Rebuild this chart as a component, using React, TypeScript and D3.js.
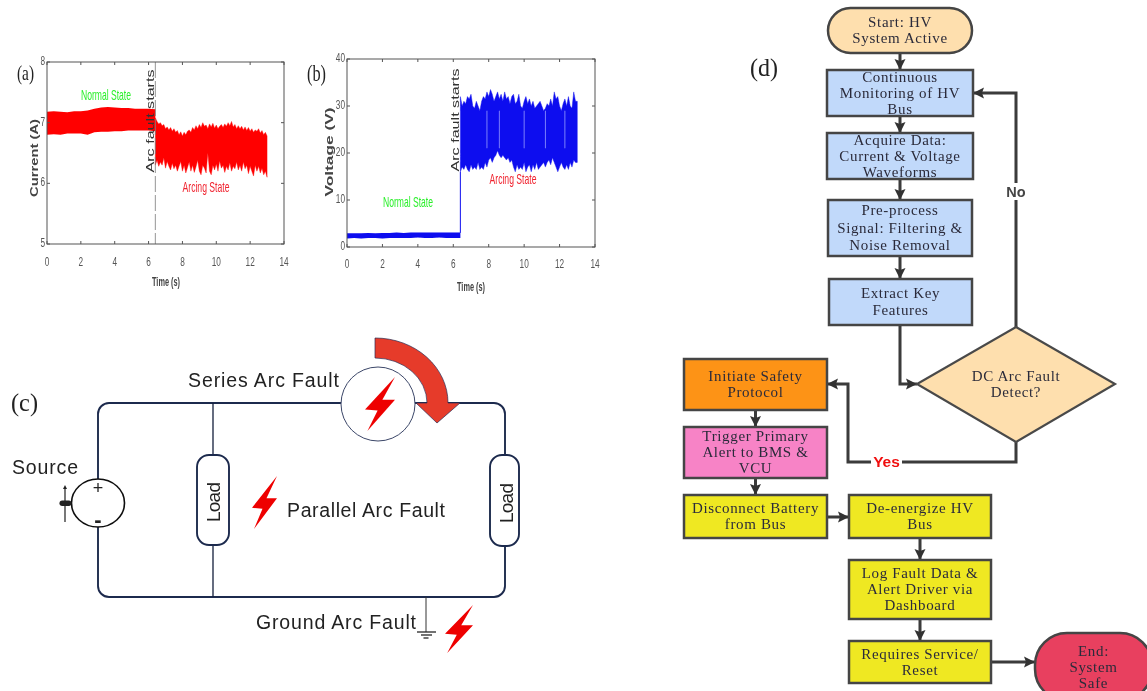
import React from 'react';
import * as d3 from 'd3';

// ---- signal envelopes (a) and (b)
const xTickValues = [0, 2, 4, 6, 8, 10, 12, 14];
const currentTicks = [5, 6, 7, 8];
const voltageTicks = [0, 10, 20, 30, 40];
const faultTime = 6.4;

const normalTimes = [0, 0.4, 0.8, 1.2, 1.6, 2, 2.4, 2.8, 3.2, 3.6, 4, 4.4, 4.8, 5.2, 5.6, 6, 6.4];
const arcTimes = d3.range(0, 67).map(i => 6.4 + i * 0.1);

const currentNormalHigh = [7.18, 7.19, 7.18, 7.17, 7.19, 7.19, 7.2, 7.23, 7.25, 7.26, 7.25, 7.24, 7.24, 7.23, 7.23, 7.23, 7.22];
const currentNormalLow = [6.8, 6.81, 6.8, 6.82, 6.82, 6.82, 6.8, 6.84, 6.85, 6.85, 6.86, 6.86, 6.87, 6.87, 6.87, 6.87, 6.86];
const currentArcHigh = [
    7.08, 7.02, 6.98, 7.0, 6.95, 6.97, 6.9, 6.93, 6.88, 6.92,
    6.86, 6.9, 6.84, 6.87, 6.8, 6.85, 6.78, 6.84, 6.8, 6.86,
    6.88, 6.84, 6.92, 6.88, 6.95, 6.9, 6.97, 6.92, 7.0, 6.94,
    6.96, 6.9, 6.98, 6.93, 6.99, 6.91, 6.96, 6.9, 6.94, 6.97,
    6.92, 6.98, 6.94, 7.0, 6.95, 7.02, 6.93, 6.97, 6.9, 6.95,
    6.9, 6.94, 6.88, 6.93, 6.87, 6.92, 6.86, 6.9, 6.84, 6.88,
    6.86, 6.9, 6.83, 6.87, 6.8, 6.84, 6.78,
];
const currentArcLow = [
    6.3, 6.38, 6.28, 6.35, 6.3, 6.42, 6.25, 6.36, 6.28, 6.22,
    6.33, 6.24, 6.3, 6.2, 6.28, 6.36, 6.2, 6.3, 6.17, 6.26,
    6.35, 6.2, 6.3, 6.18, 6.27, 6.38, 6.2, 6.14, 6.3, 6.25,
    6.17, 6.5, 6.2, 6.14, 6.3, 6.22, 6.32, 6.2, 6.37, 6.25,
    6.3, 6.18, 6.28, 6.22, 6.34, 6.2, 6.28, 6.24, 6.35, 6.22,
    6.3, 6.2, 6.35, 6.24, 6.3, 6.16, 6.28, 6.2, 6.12, 6.3,
    6.2, 6.28, 6.17, 6.25, 6.14, 6.2, 6.1,
];

const voltageNormalHigh = [2.9, 2.9, 2.9, 3.0, 2.9, 3.0, 3.0, 3.1, 3.0, 3.1, 3.1, 3.1, 3.1, 3.1, 3.1, 3.1, 3.1];
const voltageNormalLow = [1.8, 1.9, 1.8, 1.9, 1.9, 1.8, 1.9, 1.9, 1.9, 1.9, 2.0, 1.9, 1.9, 2.0, 1.9, 1.9, 1.9];
const voltageArcHigh = [
    32, 30, 31, 30.5, 32, 31.5, 32.5, 30, 29.5, 31,
    30, 29, 31, 32, 31.5, 33, 32, 33.5, 32.5, 31,
    32, 33, 31.5, 32.5, 31, 33, 31.5, 32, 30.5, 32,
    32.5, 30.5, 31, 32.5, 30, 29.5, 31, 32, 30.5, 31.5,
    30, 31, 29.5, 30, 30.5, 31, 30, 29, 29.5, 30.5,
    30, 31.5, 30, 33, 31.5, 32, 30, 29, 30.5, 31.5,
    30, 32, 30, 29.5, 33, 31, 31,
];
const voltageArcLow = [
    16, 17, 16.5, 17.5, 16.5, 16, 17.5, 16.5, 17, 16.5,
    18, 16.5, 17, 16.5, 18, 17, 18.5, 19, 18, 19,
    19.5, 20.5, 19.5, 19, 19.5, 19, 18.5, 19, 18, 18.5,
    17, 16, 17.5, 16.5, 17, 16.5, 18, 16, 17, 17.5,
    16, 17.5, 16.5, 18, 16.5, 17, 17.5, 18, 17, 18,
    18.5, 17.5, 19, 18, 17, 16, 17, 18, 17, 16.5,
    17.5, 16.5, 18, 17, 18.5, 18, 18,
];
const voltageDropouts = [7.9, 8.6, 10, 11.2, 12.3];

// ---- flowchart wording
const flowLabels = {
    start: ['Start: HV', 'System Active'],
    monitor: ['Continuous', 'Monitoring of HV', 'Bus'],
    acquire: ['Acquire Data:', 'Current & Voltage', 'Waveforms'],
    filter: ['Pre-process', 'Signal: Filtering &', 'Noise Removal'],
    extract: ['Extract Key', 'Features'],
    detect: ['DC Arc Fault', 'Detect?'],
    safety: ['Initiate Safety', 'Protocol'],
    alert: ['Trigger Primary', 'Alert to BMS &', 'VCU'],
    disconnect: ['Disconnect Battery', 'from Bus'],
    deenergize: ['De-energize HV', 'Bus'],
    log: ['Log Fault Data &', 'Alert Driver via', 'Dashboard'],
    service: ['Requires Service/', 'Reset'],
    end: ['End:', 'System', 'Safe'],
};

// layout: [x0, y0, x1, y1, fill, corner radius, line height]
const BLUE = '#c1d9fa', CREAM = '#fedfae', YELLOW = '#efe824';
const flowBoxes: Record<string, any[]> = {
    start: [828, 8, 972, 53, CREAM, 22.5, 16],
    monitor: [827, 70, 973, 116, BLUE, 0, 16],
    acquire: [827, 133, 973, 179, BLUE, 0, 16],
    filter: [828, 200, 972, 256, BLUE, 0, 17.5],
    extract: [829, 279, 972, 325, BLUE, 0, 17],
    safety: [684, 359, 827, 410, '#fd9317', 0, 16],
    alert: [684, 427, 827, 478, '#f783c6', 0, 16],
    disconnect: [684, 495, 827, 538, YELLOW, 0, 16],
    deenergize: [849, 495, 991, 538, YELLOW, 0, 16],
    log: [849, 560, 991, 619, YELLOW, 0, 16],
    service: [849, 641, 991, 683, YELLOW, 0, 16],
    end: [1035, 633, 1152, 701, '#e8405f', 32, 16],
};
const flowLinks = [
    [[900, 53], [900, 70]],
    [[900, 116], [900, 133]],
    [[900, 179], [900, 200]],
    [[900, 256], [900, 279]],
    [[900, 325], [900, 384], [917, 384]],
    [[1016, 327], [1016, 93], [973, 93]],
    [[1016, 442], [1016, 462], [848, 462], [848, 384], [827, 384]],
    [[755.5, 410], [755.5, 427]],
    [[755.5, 478], [755.5, 495]],
    [[827, 517], [849, 517]],
    [[920, 538], [920, 560]],
    [[920, 619], [920, 641]],
    [[991, 662], [1035, 662]],
];

const SANS = '"Liberation Sans", Arial, sans-serif';
const SERIF = '"Liberation Serif", "Times New Roman", serif';
const WIRE = '#1d2a4d';
const boltShape: [number, number][] = [[1, 0], [0, 0.6], [0.42, 0.62], [0.08, 1], [1, 0.42], [0.58, 0.42]];
const linePath = d3.line();

const Bolt = ({ x, y, w, h }: any) => {
    const sx = d3.scaleLinear().domain([0, 1]).range([x, x + w]);
    const sy = d3.scaleLinear().domain([0, 1]).range([y, y + h]);
    return <path d={linePath(boltShape.map(p => [sx(p[0]), sy(p[1])] as [number, number])) + 'Z'} fill="#ee0606" />;
};

const Panel = ({ box, yDomain, yTicks, yLabel, color, normal, arc, labels, dashed, dropouts, step }: any) => {
    const x = d3.scaleLinear().domain([0, 14]).range([box.l, box.r]);
    const y = d3.scaleLinear().domain(yDomain).range([box.b, box.t]);
    const band = (ts: number[], hi: number[], lo: number[]) =>
        d3.area<number>().x(t => x(t)).y0((_, i) => y(lo[i])).y1((_, i) => y(hi[i]))(ts) as string;
    return (
        <g fontFamily={SANS}>
            <path d={band(normalTimes, normal[0], normal[1])} fill={color} />
            <path d={band(arcTimes, arc[0], arc[1])} fill={color} stroke={color} strokeWidth={0.4} />
            {(dropouts || []).map((t: number) => (
                <line key={t} x1={x(t)} x2={x(t)} y1={y(29)} y2={y(21)} stroke="#9aa0ff" strokeWidth={0.8} />
            ))}
            {step && <line x1={x(faultTime)} x2={x(faultTime)} y1={y(step[0])} y2={y(step[1])} stroke={color} strokeWidth={1} />}
            {dashed && <line x1={x(faultTime)} x2={x(faultTime)} y1={box.t} y2={box.b} stroke="#777" strokeWidth={0.8} strokeDasharray="16 3" />}
            <rect x={box.l} y={box.t} width={box.r - box.l} height={box.b - box.t} fill="none" stroke="#555" strokeWidth={1} />
            {xTickValues.map(d => (
                <g key={d}>
                    <line x1={x(d)} x2={x(d)} y1={box.b} y2={box.b - 3} stroke="#555" />
                    <line x1={x(d)} x2={x(d)} y1={box.t} y2={box.t + 3} stroke="#555" />
                    <text x={x(d)} y={box.b + box.xOff} textAnchor="middle" fontSize={12} fill="#555" textLength={String(d).length * 4.6} lengthAdjust="spacingAndGlyphs">{d}</text>
                </g>
            ))}
            {yTicks.map((d: number) => (
                <g key={d}>
                    <line x1={box.l} x2={box.l + 3} y1={y(d)} y2={y(d)} stroke="#555" />
                    <line x1={box.r} x2={box.r - 3} y1={y(d)} y2={y(d)} stroke="#555" />
                    <text x={box.l - 2} y={y(d) + box.yOff} textAnchor="end" fontSize={12} fill="#555" textLength={String(d).length * 4.6} lengthAdjust="spacingAndGlyphs">{d}</text>
                </g>
            ))}
            <text x={box.timeX} y={box.timeY} textAnchor="middle" fontSize={13} fontWeight="bold" fill="#444" textLength={28} lengthAdjust="spacingAndGlyphs">Time (s)</text>
            <text transform={`translate(${box.yLabelX},${box.yLabelY}) rotate(-90)`} textAnchor="middle" fontSize={10} fontWeight="bold" fill="#444" textLength={box.yLabelLen} lengthAdjust="spacingAndGlyphs">{yLabel}</text>
            <text transform={`translate(${box.faultX},${box.faultY}) rotate(-90)`} textAnchor="middle" fontSize={10} fill="#333" textLength={103} lengthAdjust="spacingAndGlyphs">Arc fault starts</text>
            <text x={labels.normal[0]} y={labels.normal[1]} textAnchor="middle" fontSize={15} fill="#2bef2b" textLength={50} lengthAdjust="spacingAndGlyphs">Normal State</text>
            <text x={labels.arcing[0]} y={labels.arcing[1]} textAnchor="middle" fontSize={15} fill="#f0232f" textLength={47} lengthAdjust="spacingAndGlyphs">Arcing State</text>
        </g>
    );
};

const Circuit = () => (
    <g fontFamily={SANS}>
        <rect x={98} y={403} width={407} height={194} rx={11} fill="none" stroke={WIRE} strokeWidth={1.9} />
        <line x1={213} x2={213} y1={403} y2={597} stroke="#16203a" strokeWidth={1.3} />
        <line x1={426} x2={426} y1={597} y2={632} stroke="#333" strokeWidth={1} />
        <line x1={417} x2={436} y1={632} y2={632} stroke="#222" strokeWidth={1.3} />
        <line x1={421} x2={432} y1={635} y2={635} stroke="#222" strokeWidth={1.3} />
        <line x1={423.5} x2={428.5} y1={638} y2={638} stroke="#222" strokeWidth={1.3} />
        <circle cx={378} cy={404} r={37} fill="#fff" stroke="#3b4668" strokeWidth={1} />
        <path d="M375,338 A73,65 0 0 1 448,403 L460,403 L437,423 L416,403 L427,403 A52,45 0 0 0 375,358 Z" fill="#e63a2b" stroke="#2a2f55" strokeWidth={0.7} />
        <Bolt x={365} y={377} w={30} h={54} />
        <Bolt x={252} y={476} w={25} h={53} />
        <Bolt x={445} y={605} w={28} h={48} />
        <rect x={197} y={455} width={32} height={90} rx={12} fill="#fff" stroke={WIRE} strokeWidth={1.9} />
        <rect x={490} y={455} width={29} height={91} rx={12} fill="#fff" stroke={WIRE} strokeWidth={1.9} />
        <text transform="translate(220,502) rotate(-90)" textAnchor="middle" fontSize={19} fill="#222" textLength={40}>Load</text>
        <text transform="translate(513,503) rotate(-90)" textAnchor="middle" fontSize={19} fill="#222" textLength={40}>Load</text>
        <ellipse cx={98} cy={503} rx={26.5} ry={24} fill="#fff" stroke="#111" strokeWidth={1.6} />
        <text x={98} y={494} textAnchor="middle" fontSize={18} fill="#222">+</text>
        <text x={98} y={527} textAnchor="middle" fontSize={22} fontWeight="bold" fill="#222">-</text>
        <line x1={65} x2={65} y1={487} y2={522} stroke="#222" strokeWidth={1.2} />
        <path d="M63,489 L65,485 L67,489 Z" fill="#222" />
        <rect x={59.5} y={500.5} width={12} height={5.5} rx={2.7} fill="#222" />
        <text x={12} y={474} fontSize={19.5} fill="#222" textLength={66}>Source</text>
        <text x={188} y={387} fontSize={19.5} fill="#222" textLength={151}>Series Arc Fault</text>
        <text x={287} y={517} fontSize={19.5} fill="#222" textLength={158}>Parallel Arc Fault</text>
        <text x={256} y={629} fontSize={19.5} fill="#222" textLength={160}>Ground Arc Fault</text>
    </g>
);

const NodeText = ({ lines, cx, cy, lh }: any) => (
    <text fontFamily={SERIF} fontSize={15} letterSpacing={0.65} fill="#2b2b3a" textAnchor="middle">
        {lines.map((s: string, i: number) => (
            <tspan key={s} x={cx} y={cy + (i - (lines.length - 1) / 2) * lh + 4.5}>{s}</tspan>
        ))}
    </text>
);

const Flowchart = () => (
    <g>
        <defs>
            <marker id="head" markerUnits="userSpaceOnUse" markerWidth={12} markerHeight={12} refX={11} refY={6} orient="auto">
                <path d="M0,0.5 L11,6 L0,11.5 L2,6 Z" fill="#333" />
            </marker>
        </defs>
        {flowLinks.map((pts, i) => (
            <path key={i} d={linePath(pts as [number, number][]) as string} fill="none" stroke="#3a3a3a" strokeWidth={3} markerEnd="url(#head)" />
        ))}
        <path d={linePath([[1016, 327], [1115, 384], [1016, 442], [917, 384]]) + 'Z'} fill={CREAM} stroke="#4a4a4a" strokeWidth={2.2} />
        <NodeText lines={flowLabels.detect} cx={1016} cy={384} lh={16} />
        {Object.keys(flowBoxes).map(k => {
            const [x0, y0, x1, y1, fill, rx, lh] = flowBoxes[k];
            return (
                <g key={k}>
                    <rect x={x0} y={y0} width={x1 - x0} height={y1 - y0} rx={rx} fill={fill} stroke="#444" strokeWidth={2.5} />
                    <NodeText lines={(flowLabels as any)[k]} cx={(x0 + x1) / 2} cy={(y0 + y1) / 2} lh={lh} />
                </g>
            );
        })}
        <rect x={1005} y={183} width={22} height={17} fill="#fff" />
        <text x={1016} y={197} textAnchor="middle" fontFamily={SANS} fontSize={14.5} fontWeight="bold" fill="#444">No</text>
        <rect x={871} y={454} width={31} height={16} fill="#fff" />
        <text x={886.5} y={467} textAnchor="middle" fontFamily={SANS} fontSize={15.5} fontWeight="bold" fill="#f01010">Yes</text>
    </g>
);

const App = () => (
    <svg width={1147} height={691} style={{ position: 'absolute', left: 0, top: 0, background: '#fff' }}>
        <defs>
            <filter id="soft" filterUnits="userSpaceOnUse" x={0} y={0} width={1147} height={691}>
                <feGaussianBlur stdDeviation={0.45} />
            </filter>
        </defs>
        <g filter="url(#soft)">
            <Panel
                box={{ l: 47, r: 284, t: 62, b: 244, xOff: 22, yOff: 3, timeX: 166, timeY: 286, yLabelX: 38, yLabelY: 158, yLabelLen: 78, faultX: 154, faultY: 121 }}
                yDomain={[5, 8]} yTicks={currentTicks} yLabel="Current (A)" color="#ff0000"
                normal={[currentNormalHigh, currentNormalLow]} arc={[currentArcHigh, currentArcLow]}
                labels={{ normal: [106, 100], arcing: [206, 192] }} dashed
            />
            <Panel
                box={{ l: 347, r: 595, t: 59, b: 247, xOff: 21, yOff: 3, timeX: 471, timeY: 291, yLabelX: 333, yLabelY: 152, yLabelLen: 89, faultX: 459, faultY: 120 }}
                yDomain={[0, 40]} yTicks={voltageTicks} yLabel="Voltage (V)" color="#0b0bef"
                normal={[voltageNormalHigh, voltageNormalLow]} arc={[voltageArcHigh, voltageArcLow]}
                labels={{ normal: [408, 207], arcing: [513, 184] }} dropouts={voltageDropouts} step={[3, 16]}
            />
            <Circuit />
            <Flowchart />
            <text x={17} y={80} fontFamily={SERIF} fontSize={22} fill="#222" textLength={17} lengthAdjust="spacingAndGlyphs">(a)</text>
            <text x={307} y={81} fontFamily={SERIF} fontSize={23} fill="#222" textLength={19} lengthAdjust="spacingAndGlyphs">(b)</text>
            <text x={11} y={411} fontFamily={SERIF} fontSize={25} fill="#222" textLength={27} lengthAdjust="spacingAndGlyphs">(c)</text>
            <text x={750} y={76} fontFamily={SERIF} fontSize={25} fill="#222" textLength={28} lengthAdjust="spacingAndGlyphs">(d)</text>
        </g>
    </svg>
);

export default App;
